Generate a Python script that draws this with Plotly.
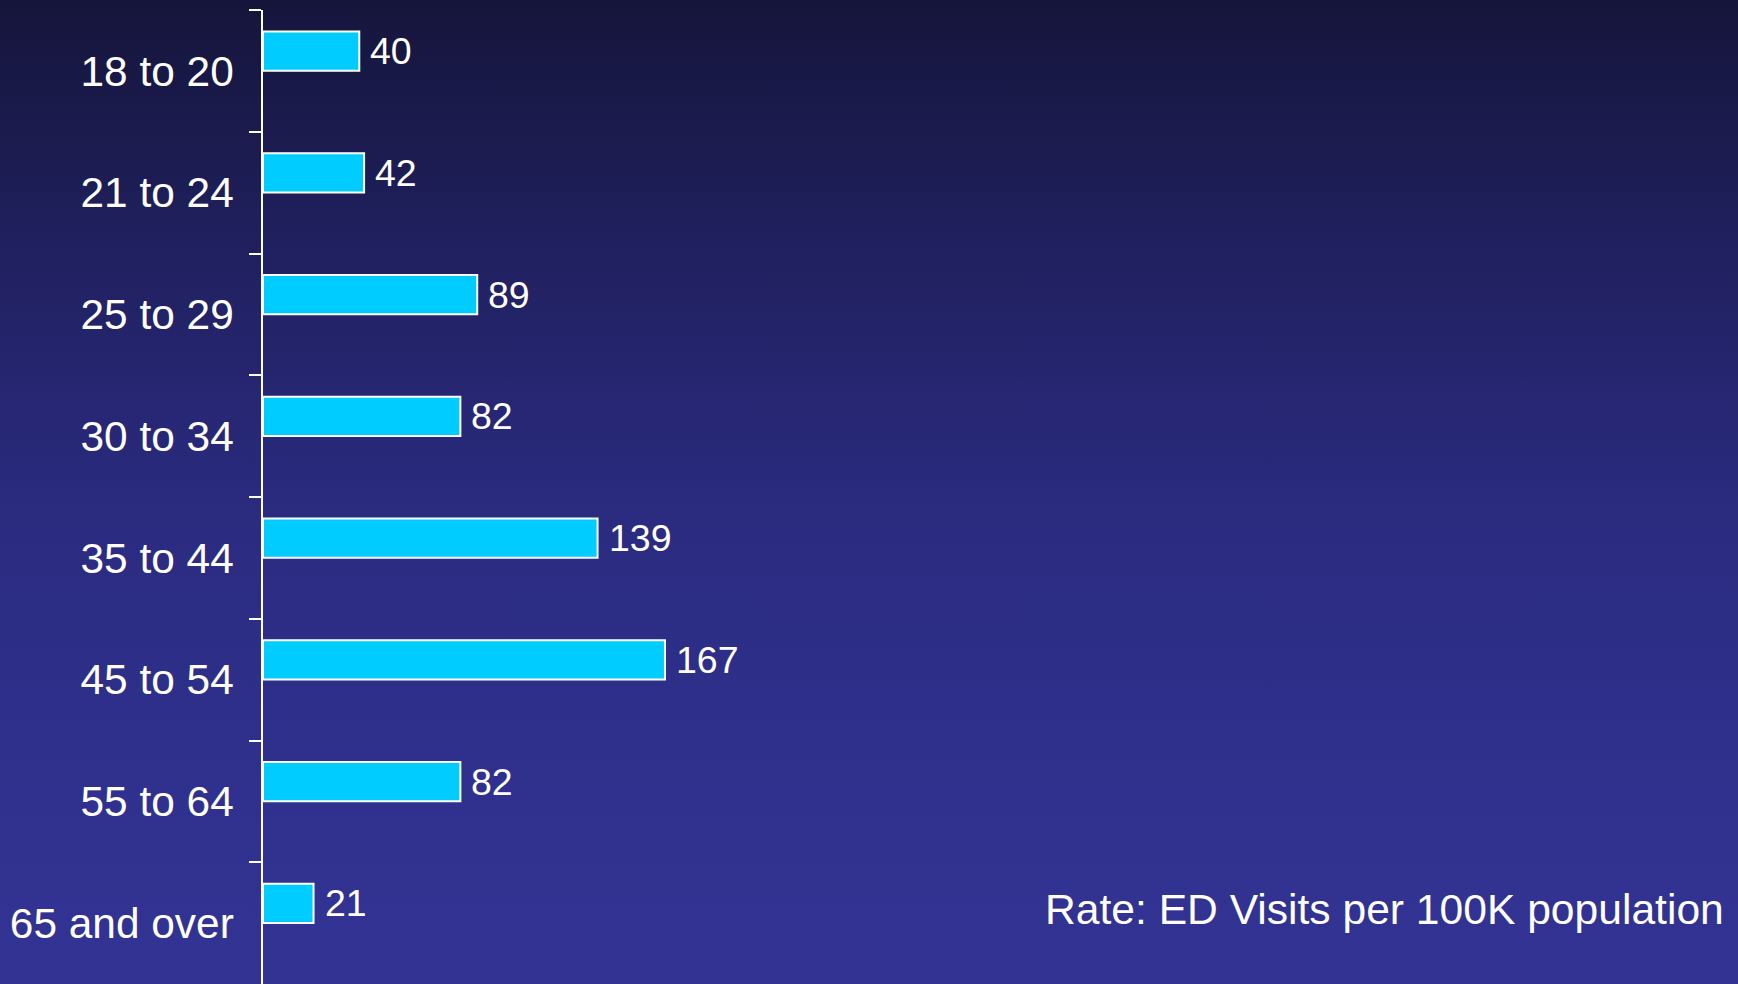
import base64
import plotly.graph_objects as go

# ---- data ----
age_groups = ["18 to 20", "21 to 24", "25 to 29", "30 to 34",
              "35 to 44", "45 to 54", "55 to 64", "65 and over"]
rates = [40, 42, 89, 82, 139, 167, 82, 21]
note_text = "Rate: ED Visits per 100K population"

# ---- layout constants ----
W, H = 1738, 984
ML, MR, MT, MB = 263, 0, 10, 0
PW, PH = W - ML - MR, H - MT - MB
PX_PER_UNIT = 2.407
FONT = "Liberation Sans, Arial, sans-serif"

BAR_OFFSET = -0.324
BAR_WIDTH = 0.322

fig = go.Figure()
fig.add_trace(go.Bar(
    y=age_groups, x=rates, orientation="h",
    offset=BAR_OFFSET, width=BAR_WIDTH,
    marker=dict(color="#00CCFF", line=dict(color="white", width=2)),
    hoverinfo="skip",
))

annotations = []
for i, v in enumerate(rates):
    annotations.append(dict(
        x=v, y=i + BAR_OFFSET + BAR_WIDTH / 2, xref="x", yref="y",
        text=str(v), showarrow=False, xanchor="left", yanchor="middle",
        xshift=9, font=dict(family=FONT, size=37.5, color="white"),
    ))
annotations.append(dict(
    x=(1726 - ML) / PW, y=(H - 909) / PH, xref="paper", yref="paper",
    text=note_text, showarrow=False, xanchor="right", yanchor="middle",
    font=dict(family=FONT, size=42.6, color="white"),
))

# gradient background as an SVG image
svg = (
    '<svg xmlns="http://www.w3.org/2000/svg" width="100" height="100" preserveAspectRatio="none">'
    '<defs><linearGradient id="g" x1="0" y1="0" x2="0" y2="1">'
    '<stop offset="0" stop-color="#15153B"/>'
    '<stop offset="0.25" stop-color="#20205F"/>'
    '<stop offset="0.5" stop-color="#2A2A7E"/>'
    '<stop offset="0.75" stop-color="#2F308C"/>'
    '<stop offset="1" stop-color="#333394"/>'
    '</linearGradient></defs>'
    '<rect x="0" y="0" width="100" height="100" fill="url(#g)"/></svg>'
)
src = "data:image/svg+xml;base64," + base64.b64encode(svg.encode()).decode()

fig.update_layout(
    width=W, height=H,
    margin=dict(l=ML, r=MR, t=MT, b=MB, pad=0),
    paper_bgcolor="#2A2A7E", plot_bgcolor="rgba(0,0,0,0)",
    showlegend=False,
    font=dict(family=FONT, color="white"),
    annotations=annotations,
    images=[dict(
        source=src, xref="paper", yref="paper",
        x=-ML / PW, y=1 + MT / PH, sizex=W / PW, sizey=H / PH,
        xanchor="left", yanchor="top", sizing="stretch", layer="below",
    )],
    xaxis=dict(range=[0, PW / PX_PER_UNIT], visible=False, fixedrange=True),
    yaxis=dict(
        type="category", categoryorder="array", categoryarray=age_groups,
        autorange="reversed",
        showline=True, linecolor="white", linewidth=1.5,
        ticks="outside", tickson="boundaries", ticklen=12,
        tickcolor="white", tickwidth=1.5,
        showgrid=False, zeroline=False,
        tickfont=dict(family=FONT, size=42.4, color="white"),
        ticklabelstandoff=19,
    ),
)

fig.write_html(
    "out.html",
    config={"displayModeBar": False},
    post_script="document.body.style.margin='0';document.body.style.overflow='hidden';",
)
